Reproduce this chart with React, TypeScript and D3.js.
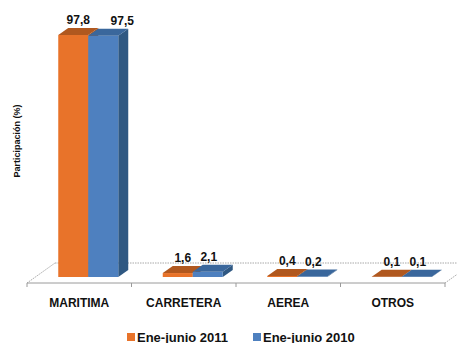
import React from "react";
import * as d3 from "d3";

const categories = ["MARITIMA", "CARRETERA", "AEREA", "OTROS"];
const seriesNames = ["Ene-junio 2011", "Ene-junio 2010"];
const values2011 = [97.8, 1.6, 0.4, 0.1];
const values2010 = [97.5, 2.1, 0.2, 0.1];
const valueLabels2011 = ["97,8", "1,6", "0,4", "0,1"];
const valueLabels2010 = ["97,5", "2,1", "0,2", "0,1"];
const yTitle = "Participación (%)";

const W = 457;
const H = 343;
const FONT = "'Liberation Sans', Arial, sans-serif";

const styles = [
  { front: "#E8732A", top: "#B0581F", side: "#A9531C", labelDx: 5 },
  { front: "#4E80BF", top: "#3A679C", side: "#2F5882", labelDx: 1 },
];

export default function App() {
  const floorFrontY = 283;
  const floorDx = 28;
  const floorDy = -20;
  const x = d3.scaleBand<string>().domain(categories).range([27, 445]).padding(0);
  const y = d3.scaleLinear().domain([0, 100]).range([277, 277 - 247.4]);
  const barShift = 9;
  const bdx = 10;
  const bdy = -7;
  const seriesData = [
    { vals: values2011, labels: valueLabels2011 },
    { vals: values2010, labels: valueLabels2010 },
  ];

  const x0 = x.range()[0];
  const x1 = x.range()[1];

  return (
    <svg width={W} height={H} style={{ position: "absolute", left: 0, top: 0, background: "#fff" }}>
      {/* floor */}
      <line x1={x0 + floorDx} y1={floorFrontY + floorDy} x2={x1 + floorDx} y2={floorFrontY + floorDy}
        stroke="#a8a8a8" strokeWidth={1} strokeDasharray="1.5 1" />
      <line x1={x0} y1={floorFrontY} x2={x0 + floorDx} y2={floorFrontY + floorDy}
        stroke="#a8a8a8" strokeWidth={1} strokeDasharray="1.5 1" />
      <line x1={x1} y1={floorFrontY} x2={x1 + floorDx} y2={floorFrontY + floorDy}
        stroke="#a8a8a8" strokeWidth={1} strokeDasharray="1.5 1" />
      <line x1={x0} y1={floorFrontY} x2={x1} y2={floorFrontY} stroke="#9a9a9a" strokeWidth={1} />
      {[...categories.map((c) => x(c) as number), x1].map((t, i) => (
        <line key={"t" + i} x1={t} y1={floorFrontY} x2={t} y2={floorFrontY + 4} stroke="#9a9a9a" strokeWidth={1} />
      ))}

      {/* bars */}
      {categories.map((c, ci) => {
        const center = (x(c) as number) + x.bandwidth() / 2 + barShift;
        const inner = d3.scaleBand<string>().domain(seriesNames).range([center - 30, center + 30]);
        return (
          <g key={c}>
            {seriesData.map((s, si) => {
              const st = styles[si];
              const bx = inner(seriesNames[si]) as number;
              const bw = inner.bandwidth();
              const yt = y(s.vals[ci]);
              const yb = y(0);
              const front = `M${bx},${yb}L${bx + bw},${yb}L${bx + bw},${yt}L${bx},${yt}Z`;
              const top = `M${bx},${yt}L${bx + bw},${yt}L${bx + bw + bdx},${yt + bdy}L${bx + bdx},${yt + bdy}Z`;
              const side = `M${bx + bw},${yb}L${bx + bw + bdx},${yb + bdy}L${bx + bw + bdx},${yt + bdy}L${bx + bw},${yt}Z`;
              return (
                <g key={si}>
                  <path d={side} fill={st.side} />
                  <path d={front} fill={st.front} />
                  <path d={top} fill={st.top} />
                </g>
              );
            })}
            {seriesData.map((s, si) => {
              const bx = inner(seriesNames[si]) as number;
              const bw = inner.bandwidth();
              const yt = y(s.vals[ci]);
              return (
                <text key={"l" + si} x={bx + bw / 2 + styles[si].labelDx + (ci === 0 && si === 1 ? 18 : 0)}
                  y={yt + bdy - 4} textAnchor="middle" fontFamily={FONT} fontWeight="bold" fontSize={12} fill="#111">
                  {s.labels[ci]}
                </text>
              );
            })}
          </g>
        );
      })}

      {/* category labels */}
      {categories.map((c) => (
        <text key={"c" + c} x={(x(c) as number) + x.bandwidth() / 2} y={307} textAnchor="middle"
          fontFamily={FONT} fontWeight="bold" fontSize={12} fill="#111">
          {c}
        </text>
      ))}

      {/* y title */}
      <text transform="translate(20,141) rotate(-90)" textAnchor="middle" fontFamily={FONT}
        fontWeight="bold" fontSize={9} fill="#111">
        {yTitle}
      </text>

      {/* legend */}
      {seriesNames.map((n, i) => {
        const lx = i === 0 ? 127 : 253;
        return (
          <g key={"lg" + i}>
            <rect x={lx} y={333} width={8} height={8} fill={styles[i].front} />
            <text x={lx + 10} y={341.5} fontFamily={FONT} fontWeight="bold" fontSize={13} fill="#111">
              {n}
            </text>
          </g>
        );
      })}
    </svg>
  );
}
